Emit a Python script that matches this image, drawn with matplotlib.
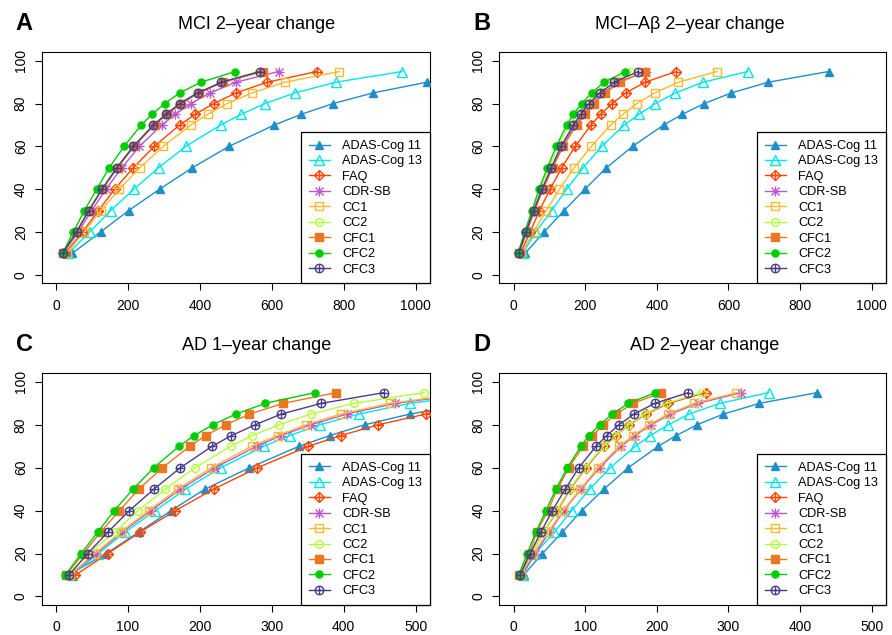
import matplotlib
matplotlib.use('Agg')
import matplotlib.pyplot as plt
from matplotlib.legend_handler import HandlerTuple

plt.rcParams['font.family'] = ['Liberation Sans', 'DejaVu Sans']

# power levels (%) on the y axis
power = [10, 20, 30, 40, 50, 60, 70, 75, 80, 85, 90, 95]

names = ['ADAS-Cog 11', 'ADAS-Cog 13', 'FAQ', 'CDR-SB', 'CC1', 'CC2', 'CFC1', 'CFC2', 'CFC3']
colors = ['#1E8FCB', '#00E5EE', '#FF4500', '#BA55D3', '#FFB92E', '#B3FF3A', '#EE7621', '#00CD00', '#483D8B']
styles = ['tri_f', 'tri_o', 'dplus', 'star', 'sq_o', 'circ_o', 'sq_f', 'circ_f', 'cplus']

# A: MCI 2-year change (sample sizes)
a_adas11 = [45, 124, 202, 288, 379, 481, 607, 682, 770, 882, 1031, 1260]
a_adas13 = [34, 94, 152, 217, 285, 361, 458, 515, 581, 665, 778, 963]
a_faq = [25, 74, 118, 163, 215, 273, 344, 387, 438, 501, 587, 726]
a_cdrsb = [20, 62, 99, 139, 183, 232, 294, 332, 375, 429, 500, 619]
a_cc1 = [30, 78, 125, 176, 233, 298, 375, 422, 476, 545, 637, 788]
a_cc2 = [19, 56, 90, 127, 168, 214, 270, 305, 343, 393, 459, 565]
a_cfc1 = [19, 57, 92, 129, 171, 217, 274, 309, 348, 398, 465, 576]
a_cfc2 = [18, 48, 79, 113, 148, 189, 237, 267, 302, 344, 403, 499]
a_cfc3 = [19, 57, 91, 128, 169, 215, 271, 306, 344, 394, 460, 567]

# B: MCI-Abeta 2-year change
b_adas11 = [32, 85, 141, 199, 259, 332, 419, 471, 532, 608, 711, 880]
b_adas13 = [25, 62, 106, 148, 194, 246, 309, 350, 396, 452, 529, 654]
b_faq = [19, 46, 72, 102, 134, 172, 216, 243, 275, 313, 367, 454]
b_cdrsb = [15, 36, 58, 82, 108, 136, 172, 193, 217, 249, 291, 370]
b_cc1 = [21, 56, 91, 128, 169, 217, 271, 305, 344, 394, 460, 568]
b_cc2 = [13, 32, 53, 74, 98, 124, 155, 175, 199, 228, 265, 329]
b_cfc1 = [15, 36, 58, 82, 109, 138, 176, 198, 224, 255, 298, 366]
b_cfc2 = [12, 31, 51, 71, 94, 119, 148, 167, 190, 218, 253, 312]
b_cfc3 = [14, 34, 56, 79, 105, 132, 167, 187, 210, 241, 281, 347]

# C: AD 1-year change
c_adas11 = [17, 70, 115, 160, 207, 269, 338, 381, 429, 492, 580, 720]
c_adas13 = [22, 59, 96, 138, 180, 229, 289, 325, 367, 421, 492, 610]
c_faq = [27, 72, 117, 166, 219, 280, 351, 396, 448, 514, 600, 740]
c_cdrsb = [20, 56, 92, 132, 173, 221, 279, 313, 354, 404, 472, 585]
c_cc1 = [19, 54, 90, 129, 169, 216, 272, 308, 347, 396, 464, 575]
c_cc2 = [17, 45, 82, 114, 152, 193, 243, 273, 310, 354, 414, 512]
c_cfc1 = [14, 38, 62, 88, 115, 148, 186, 208, 236, 269, 316, 390]
c_cfc2 = [13, 35, 58, 81, 107, 136, 171, 192, 218, 250, 291, 360]
c_cfc3 = [18, 44, 72, 102, 136, 173, 217, 244, 277, 313, 369, 456]

# D: AD 2-year change
d_adas11 = [14, 40, 68, 95, 126, 160, 202, 227, 256, 293, 343, 424]
d_adas13 = [13, 30, 57, 81, 106, 135, 170, 191, 216, 245, 288, 356]
d_faq = [9, 24, 42, 61, 79, 101, 126, 143, 161, 185, 216, 268]
d_cdrsb = [11, 30, 50, 70, 94, 120, 150, 169, 192, 219, 257, 318]
d_cc1 = [10, 27, 48, 69, 93, 118, 147, 167, 189, 216, 252, 311]
d_cc2 = [9, 24, 42, 60, 78, 100, 125, 142, 160, 183, 213, 263]
d_cfc1 = [8, 22, 32, 48, 61, 77, 97, 110, 125, 143, 167, 206]
d_cfc2 = [7, 19, 31, 45, 59, 75, 94, 105, 120, 138, 160, 198]
d_cfc3 = [9, 23, 38, 54, 72, 91, 115, 130, 147, 168, 197, 244]

panels = [
    ('A', 'MCI 2\u2013year change', [a_adas11, a_adas13, a_faq, a_cdrsb, a_cc1, a_cc2, a_cfc1, a_cfc2, a_cfc3], 1000),
    ('B', 'MCI\u2013A\u03b2 2\u2013year change', [b_adas11, b_adas13, b_faq, b_cdrsb, b_cc1, b_cc2, b_cfc1, b_cfc2, b_cfc3], 1000),
    ('C', 'AD 1\u2013year change', [c_adas11, c_adas13, c_faq, c_cdrsb, c_cc1, c_cc2, c_cfc1, c_cfc2, c_cfc3], 500),
    ('D', 'AD 2\u2013year change', [d_adas11, d_adas13, d_faq, d_cdrsb, d_cc1, d_cc2, d_cfc1, d_cfc2, d_cfc3], 500),
]

# axes boxes in figure fractions (left, bottom, width, height)
boxes = [(0.0467, 0.5539, 0.4353, 0.3638), (0.5598, 0.5539, 0.4335, 0.3638),
         (0.0467, 0.0472, 0.4353, 0.3649), (0.5598, 0.0472, 0.4335, 0.3649)]
title_x = [0.554, 0.493, 0.554, 0.532]


def draw(ax, x, y, color, style, z):
    ms = 5.6
    kw = dict(color=color, lw=1, zorder=z, clip_on=True)
    hs = []
    if style == 'tri_f':
        hs.append(ax.plot(x, y, marker='^', ms=ms + 0.5, mfc=color, mec=color, **kw)[0])
    elif style == 'tri_o':
        hs.append(ax.plot(x, y, marker='^', ms=ms + 1, mfc='none', mec=color, mew=1.0, **kw)[0])
    elif style == 'dplus':
        hs.append(ax.plot(x, y, marker='D', ms=ms - 0.5, mfc='none', mec=color, mew=1.0, **kw)[0])
        hs.append(ax.plot(x, y, ls='none', marker='+', ms=ms + 2, mec=color, mew=1.0, zorder=z)[0])
    elif style == 'star':
        hs.append(ax.plot(x, y, marker='+', ms=ms + 1, mec=color, mew=1.0, **kw)[0])
        hs.append(ax.plot(x, y, ls='none', marker='x', ms=ms - 0.3, mec=color, mew=1.0, zorder=z)[0])
    elif style == 'sq_o':
        hs.append(ax.plot(x, y, marker='s', ms=ms, mfc='none', mec=color, mew=1.0, **kw)[0])
    elif style == 'circ_o':
        hs.append(ax.plot(x, y, marker='o', ms=ms, mfc='none', mec=color, mew=1.0, **kw)[0])
    elif style == 'sq_f':
        hs.append(ax.plot(x, y, marker='s', ms=ms, mfc=color, mec=color, **kw)[0])
    elif style == 'circ_f':
        hs.append(ax.plot(x, y, marker='o', ms=ms - 0.5, mfc=color, mec=color, **kw)[0])
    elif style == 'cplus':
        hs.append(ax.plot(x, y, marker='o', ms=ms + 0.5, mfc='none', mec=color, mew=1.0, **kw)[0])
        hs.append(ax.plot(x, y, ls='none', marker='+', ms=ms + 0.5, mec=color, mew=1.0, zorder=z)[0])
    return tuple(hs)


fig = plt.figure(figsize=(8.92, 6.35), dpi=100)

for i, (letter, title, series, xmax) in enumerate(panels):
    ax = fig.add_axes(boxes[i])
    handles = []
    for j in range(len(names)):
        handles.append(draw(ax, series[j], power, colors[j], styles[j], 3 + j))
    ax.set_xlim(-0.04 * xmax, 1.04 * xmax)
    ax.set_ylim(-4, 104)
    step = xmax // 5
    ax.set_xticks(range(0, xmax + 1, step))
    ax.set_yticks([0, 20, 40, 60, 80, 100])
    ax.tick_params(direction='out', length=5, width=0.8, labelsize=10, pad=6)
    ax.tick_params(axis='y', pad=5)
    for lab in ax.get_yticklabels():
        lab.set_rotation(90)
        lab.set_va('center')
    for s in ax.spines.values():
        s.set_linewidth(0.8)
    ax.text(title_x[i], 1.12, title, transform=ax.transAxes, ha='center', va='center', fontsize=13)
    ax.text(-0.045, 1.125, letter, transform=ax.transAxes, ha='center', va='center',
            fontsize=17, fontweight='bold')
    leg = ax.legend(handles, names, loc='lower right', borderaxespad=0, fontsize=9.2,
                    handler_map={tuple: HandlerTuple(ndivide=1)},
                    fancybox=False, edgecolor='black', framealpha=1,
                    handlelength=1.65, handletextpad=1.0, labelspacing=0.27, borderpad=0.6)
    leg.get_frame().set_linewidth(0.9)
    leg.set_zorder(20)

plt.savefig('out.png', dpi=100)
